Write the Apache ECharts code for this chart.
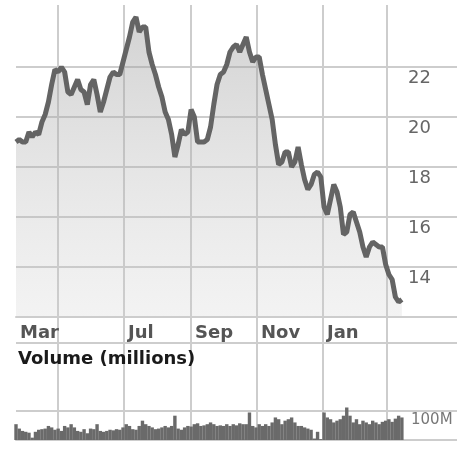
<!DOCTYPE html>
<html><head><meta charset="utf-8">
<script src="https://cdn.jsdelivr.net/npm/echarts@6/dist/echarts.min.js"></script>
<style>html,body{margin:0;padding:0;background:#fff}#c{width:457px;height:449px}</style>
</head><body><div id="c"></div>
<script>
// x positions: day counted from Jan 1 of the first year (Mar 22 = 81 ... Mar 15 next year = 438)
const days = [81,84,87,90,93,96,99,102,105,108,111,114,117,120,123,126,129,132,135,138,141,144,147,150,153,156,159,162,165,168,171,174,177,180,183,186,189,192,195,198,201,204,207,210,213,216,219,222,225,228,231,234,237,240,243,246,249,252,255,258,261,264,267,270,273,276,279,282,285,288,291,294,297,300,303,306,309,312,315,318,321,324,327,330,333,336,339,342,345,348,351,354,357,360,363,366,369,372,375,378,381,384,387,390,393,396,399,402,405,408,411,414,417,420,423,426,429,432,435,438];
const prices = [19.0,19.1,19.0,19.0,19.4,19.2,19.4,19.3,19.8,20.1,
 20.6,21.3,21.9,21.8,22.0,21.8,21.0,20.9,21.2,21.5,
 21.1,21.0,20.5,21.3,21.5,20.9,20.2,20.6,21.1,21.6,
 21.8,21.7,21.7,22.2,22.7,23.2,23.8,24.0,23.4,23.6,
 23.6,22.6,22.1,21.7,21.2,20.8,20.2,19.9,19.3,18.4,
 18.9,19.5,19.3,19.4,20.3,20.0,19.0,19.0,19.0,19.1,
 19.6,20.5,21.3,21.7,21.8,22.1,22.6,22.8,22.9,22.6,
 22.9,23.2,22.6,22.2,22.4,22.4,21.7,21.1,20.5,19.9,
 18.9,18.1,18.2,18.6,18.6,18.0,18.2,18.8,18.1,17.5,
 17.1,17.3,17.7,17.8,17.6,16.4,16.1,16.7,17.3,17.0,
 16.4,15.3,15.4,16.1,16.2,15.8,15.4,14.8,14.4,14.8,
 15.0,14.9,14.8,14.8,14.1,13.7,13.5,12.8,12.6,12.7];
const volumes = [54,39,31,28,25,8,28,35,37,39,
 48,43,35,39,31,48,43,54,43,31,
 28,37,23,39,37,54,31,28,31,35,
 33,37,35,43,54,48,37,35,48,66,
 54,48,43,37,39,43,48,43,48,83,
 39,35,43,48,46,54,57,48,50,54,
 60,54,48,50,48,54,48,54,50,57,
 54,54,94,48,43,54,48,54,48,60,
 77,71,54,66,71,77,60,48,48,43,
 39,35,5,28,3,94,77,71,60,66,
 71,83,111,83,60,71,54,66,60,54,
 66,60,54,62,66,71,62,73,83,77];
const gridDays = [120,181,243,304,365,424];       // May, Jul, Sep, Nov, Jan, Mar
const monthLabelDays = [81,181,243,304,365];
const monthLabels = ['Mar','Jul','Sep','Nov','Jan'];
const priceTicks = [14,16,18,20,22];
const volumeLines = [100,331];
const volumeLabelValues = [100];
const volumeLabels = ['100M'];

const chart = echarts.init(document.getElementById('c'), null, {renderer:'canvas'});
const gridColor = '#cdcdcd';
const xMin = 81, xMax = 489;
const splitLine = {show:true, lineStyle:{color:gridColor, width:2}};
chart.setOption({
  animation:false,
  backgroundColor:'#ffffff',
  title:{text:'Volume (millions)', left:18, top:350, padding:0,
    textStyle:{fontFamily:'DejaVu Sans', fontSize:18, fontWeight:'bold', color:'#1a1a1a'}},
  grid:[{left:16,right:0,top:5,bottom:132},{left:16,right:0,top:317,bottom:9}],
  xAxis:[
    {type:'value', gridIndex:0, min:xMin, max:xMax,
     axisLine:{show:true, lineStyle:{color:gridColor, width:2}},
     axisTick:{show:false, customValues:gridDays},
     splitLine:splitLine,
     axisLabel:{customValues:monthLabelDays, hideOverlap:false,
       formatter:function(v){const k=monthLabelDays.indexOf(v);return k>=0?monthLabels[k]:'';},
       align:'left', padding:[0,0,0,4], margin:7,
       fontFamily:'DejaVu Sans', fontWeight:'bold', fontSize:18, color:'#555'}},
    {type:'value', gridIndex:1, min:xMin, max:xMax,
     axisLine:{show:true, lineStyle:{color:gridColor, width:2}},
     axisTick:{show:false, customValues:gridDays},
     splitLine:splitLine, axisLabel:{show:false}}
  ],
  yAxis:[
    {type:'value', gridIndex:0, position:'right', min:12, max:24.48,
     axisLine:{show:false}, axisTick:{show:false, customValues:priceTicks},
     splitLine:splitLine,
     axisLabel:{inside:true, customValues:priceTicks, align:'left', margin:49,
       verticalAlign:'top', padding:[2,0,0,0],
       fontFamily:'DejaVu Sans', fontSize:18, color:'#666'}},
    {type:'value', gridIndex:1, position:'right', min:0, max:420,
     axisLine:{show:false}, axisTick:{show:false, customValues:volumeLines},
     splitLine:splitLine,
     axisLabel:{inside:true, customValues:volumeLabelValues, align:'left', margin:46,
       verticalAlign:'top', padding:[2,0,0,0],
       formatter:function(v){const k=volumeLabelValues.indexOf(v);return k>=0?volumeLabels[k]:'';},
       fontFamily:'DejaVu Sans', fontSize:15, color:'#777'}}
  ],
  series:[
    {type:'line', xAxisIndex:0, yAxisIndex:0, showSymbol:false,
     data:days.map(function(d,i){return [d, prices[i]];}),
     lineStyle:{color:'#646464', width:5},
     areaStyle:{color:new echarts.graphic.LinearGradient(0,0,0,1,[
       {offset:0,color:'rgba(150,150,150,0.6)'},{offset:1,color:'rgba(205,205,205,0.35)'}])}},
    {type:'bar', xAxisIndex:1, yAxisIndex:1, barWidth:3.4,
     data:days.map(function(d,i){return [d, volumes[i]];}),
     itemStyle:{color:'#6a6a6a'}}
  ]
});
</script></body></html>
